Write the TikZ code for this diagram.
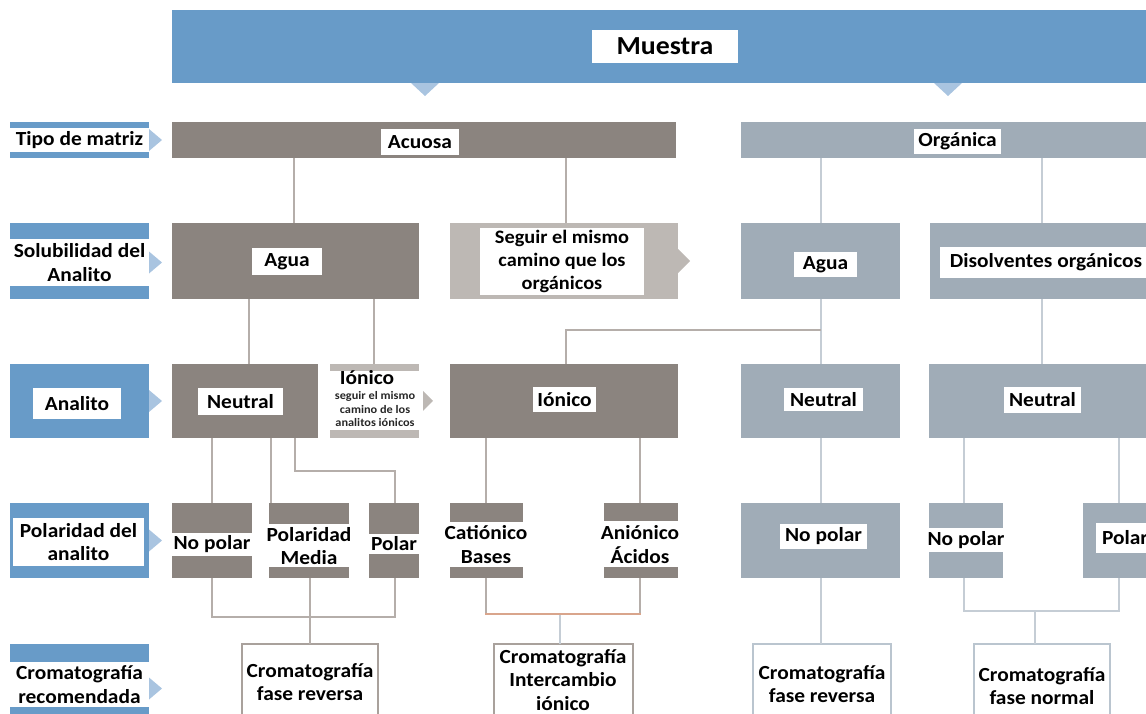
\documentclass[tikz,border=0pt]{standalone}
\usepackage{fontspec}
\setmainfont{Carlito}[FakeStretch=1.07]
\usetikzlibrary{calc}
\definecolor{bannerblue}{HTML}{689BC8}
\definecolor{arrblue}{HTML}{A9C4E0}
\definecolor{aqcol}{HTML}{8B847F}
\definecolor{ltgray}{HTML}{BDB8B4}
\definecolor{orgcol}{HTML}{A0ACB7}
\definecolor{aqline}{HTML}{B5AEAA}
\definecolor{orgline}{HTML}{C5CDD5}
\definecolor{brkt}{HTML}{D9A58C}
\definecolor{aqborder}{HTML}{A9A19C}
\definecolor{orgborder}{HTML}{BAC5CF}
\newcommand{\rbox}[7]{\node[#2, minimum width={(#5)-(#3)}, minimum height={(#6)-(#4)}] (#1) at ({((#3)+(#5))/2},{((#4)+(#6))/2}) {#7};}
\tikzset{
  blk/.style={rectangle, inner sep=0pt, outer sep=0pt, draw=none},
  aqbox/.style={blk, fill=aqcol},
  orgbox/.style={blk, fill=orgcol},
  ltbox/.style={blk, fill=ltgray},
  bluebox/.style={blk, fill=bannerblue},
  whitebox/.style={blk, fill=white},
  txt/.style={font=\bfseries\fontsize{20}{23.5}\selectfont, align=center, inner sep=0pt, text=black},
  smalltxt/.style={font=\bfseries\fontsize{11.5}{13.2}\selectfont, align=center, inner sep=0pt, text=black!85},
  aqconn/.style={draw=aqline, line width=2pt},
  orgconn/.style={draw=orgline, line width=2pt},
  brconn/.style={draw=brkt, line width=2pt},
  tri/.style={fill=arrblue},
  ltri/.style={fill=ltgray},
  cromaq/.style={blk, fill=white, draw=aqborder, line width=1.5pt},
  cromorg/.style={blk, fill=white, draw=orgborder, line width=1.5pt}
}
\begin{document}
\begin{tikzpicture}[x=1pt,y=-1pt]
\useasboundingbox (0,0) rectangle (1146,713);
\clip (0,0) rectangle (1146,713);
% banner
\rbox{banner}{bluebox}{172}{10}{1160}{83}{}
\rbox{muestra}{whitebox,txt,font=\bfseries\fontsize{26}{28}\selectfont}{592}{30}{738}{63}{Muestra}
\fill[tri] (425,0 |- banner.south) ++(-14,0) -- ++(28,0) -- ++(-14,13) -- cycle;
\fill[tri] (948,0 |- banner.south) ++(-14,0) -- ++(28,0) -- ++(-14,13) -- cycle;
% left labels
\rbox{l1top}{bluebox}{10}{122}{149}{128}{}
\rbox{l1bot}{bluebox}{10}{152}{149}{158}{}
\rbox{l1}{whitebox,txt}{10}{128}{149}{152}{Tipo de matriz}
\fill[tri] (l1.east) ++(0,-11) -- ++(13,11) -- ++(-13,11) -- cycle;
\rbox{l2top}{bluebox}{10}{223}{149}{239}{}
\rbox{l2bot}{bluebox}{10}{286}{149}{299}{}
\rbox{l2}{whitebox,txt}{10}{239}{149}{286}{Solubilidad del\\Analito}
\fill[tri] (l2.east) ++(0,-11) -- ++(13,11) -- ++(-13,11) -- cycle;
\rbox{l3}{bluebox}{10}{364}{149}{438}{}
\rbox{l3L}{whitebox,txt}{33}{388}{121}{419}{Analito}
\fill[tri] (l3.east) ++(0,-11) -- ++(13,11) -- ++(-13,11) -- cycle;
\rbox{l4}{bluebox}{10}{503}{149}{578}{}
\rbox{l4L}{whitebox,txt}{13}{518}{144}{566}{Polaridad del\\analito}
\fill[tri] (l4.east) ++(0,-11) -- ++(13,11) -- ++(-13,11) -- cycle;
\rbox{l5top}{bluebox}{10}{644}{149}{662}{}
\rbox{l5bot}{bluebox}{10}{707}{149}{720}{}
\rbox{l5}{whitebox,txt}{10}{662}{149}{707}{Cromatografía\\recomendada}
\fill[tri] ([yshift=-4pt]l5.east) ++(0,-11) -- ++(13,11) -- ++(-13,11) -- cycle;
% row 1
\rbox{acuosa}{aqbox}{172}{122}{676}{158}{}
\rbox{acuosaL}{whitebox,txt}{381}{129}{459}{155}{Acuosa}
\rbox{organica}{orgbox}{741}{122}{1160}{158}{}
\rbox{organicaL}{whitebox,txt}{914}{129}{1001}{154}{Orgánica}
% row 2
\rbox{agua}{aqbox}{172}{223}{419}{299}{}
\rbox{aguaL}{whitebox,txt}{252}{248}{322}{275}{Agua}
\rbox{seguir}{ltbox}{450}{223}{678}{299}{}
\rbox{seguirL}{whitebox,txt,font=\bfseries\fontsize{19}{23}\selectfont}{480}{228}{644}{295}{Seguir el mismo\\camino que los\\orgánicos}
\fill[ltri] (seguir.east) ++(0,-12) -- ++(12,12) -- ++(-12,12) -- cycle;
\rbox{aguaO}{orgbox}{741}{223}{900}{299}{}
\rbox{aguaOL}{whitebox,txt}{794}{252}{857}{277}{Agua}
\rbox{disol}{orgbox}{930}{223}{1160}{299}{}
\rbox{disolL}{whitebox}{940}{247}{1160}{278}{}
\node[txt] (disolT) at (1046,262.5) {Disolventes orgánicos};
% row 3
\rbox{neutral}{aqbox}{172}{364}{318}{438}{}
\rbox{neutralL}{whitebox,txt}{198}{388}{283}{415}{Neutral}
\rbox{ionTop}{ltbox}{330}{364}{419}{371}{}
\rbox{ionBot}{ltbox}{330}{430}{419}{438}{}
\node[txt] (ionS) at (367,378) {Iónico};
\node[smalltxt] (ionSub) at (375,409) {seguir el mismo\\camino de los\\analitos iónicos};
\fill[ltri] ($(ionTop.east)!0.5!(ionBot.east)$) ++(4,-10) -- ++(10,10) -- ++(-10,10) -- cycle;
\rbox{ionico}{aqbox}{450}{364}{678}{438}{}
\rbox{ionicoL}{whitebox,txt}{533}{387}{596}{412}{Iónico}
\rbox{neutralO}{orgbox}{741}{364}{900}{438}{}
\rbox{neutralOL}{whitebox,txt}{784}{388}{863}{411}{Neutral}
\rbox{neutralR}{orgbox}{929}{364}{1160}{438}{}
\rbox{neutralRL}{whitebox,txt}{1004}{387}{1081}{413}{Neutral}
% row 4
\rbox{npTop}{aqbox}{172}{503}{252}{533}{}
\rbox{npBot}{aqbox}{172}{556}{252}{578}{}
\node[txt] (np) at (212,544.5) {No polar};
\rbox{pmTop}{aqbox}{269}{503}{349}{524}{}
\rbox{pmBot}{aqbox}{269}{567}{349}{578}{}
\node[txt] (pm) at (309,546) {Polaridad\\Media};
\rbox{polTop}{aqbox}{369}{503}{419}{534}{}
\rbox{polBot}{aqbox}{369}{554}{419}{578}{}
\node[txt] (pol) at (394,544) {Polar};
\rbox{catTop}{aqbox}{450}{503}{523}{522}{}
\rbox{catBot}{aqbox}{450}{567}{523}{578}{}
\node[txt] (cat) at (486,544.5) {Catiónico\\Bases};
\rbox{aniTop}{aqbox}{604}{503}{678}{521}{}
\rbox{aniBot}{aqbox}{604}{567}{678}{578}{}
\node[txt] (ani) at (640,544.5) {Aniónico\\Ácidos};
\rbox{noO}{orgbox}{741}{503}{900}{578}{}
\rbox{noOL}{whitebox,txt}{780}{524}{867}{549}{No polar}
\rbox{np2Top}{orgbox}{929}{503}{1003}{528}{}
\rbox{np2Bot}{orgbox}{929}{552}{1003}{578}{}
\node[txt] (np2) at (966,540) {No polar};
\rbox{polO}{orgbox}{1083}{503}{1160}{578}{}
\rbox{polOL}{whitebox}{1096}{523}{1160}{553}{}
\node[txt] (polOT) at (1125,538) {Polar};
% row 5
\rbox{crom1}{cromaq}{242}{644}{378}{730}{}
\node[txt] (crom1T) at (310,682) {Cromatografía\\fase reversa};
\rbox{crom2}{cromaq}{494}{644}{633}{730}{}
\node[txt] (crom2T) at (563,680) {Cromatografía\\Intercambio\\iónico};
\rbox{crom3}{cromorg}{753}{644}{891}{730}{}
\node[txt] (crom3T) at (822,684) {Cromatografía\\fase reversa};
\rbox{crom4}{cromorg}{974}{644}{1110}{730}{}
\node[txt] (crom4T) at (1042,686) {Cromatografía\\fase normal};
% connectors aqueous
\draw[aqconn] (294,0 |- acuosa.south) -- (294,0 |- agua.north);
\draw[aqconn] (566,0 |- acuosa.south) -- (566,0 |- seguir.north);
\draw[aqconn] (249,0 |- agua.south) -- (249,0 |- neutral.north);
\draw[aqconn] (374,0 |- agua.south) -- (374,0 |- ionTop.north);
\draw[aqconn] (212,0 |- neutral.south) -- (212,0 |- npTop.north);
\draw[aqconn] (271,0 |- neutral.south) -- (271,0 |- pmTop.north);
\draw[aqconn] (295,0 |- neutral.south) -- (295,471) -- (395,471) -- (395,0 |- polTop.north);
\draw[aqconn] (486,0 |- ionico.south) -- (486,0 |- catTop.north);
\draw[aqconn] (640,0 |- ionico.south) -- (640,0 |- aniTop.north);
\draw[aqconn] (212,0 |- npBot.south) -- (212,617) -- (395,617) -- (395,0 |- polBot.south);
\draw[aqconn] (310,0 |- pmBot.south) -- (310,0 |- crom1.north);
\draw[aqconn] (486,0 |- catBot.south) -- (486,614);
\draw[aqconn] (640,0 |- aniBot.south) -- (640,614);
\draw[brconn] (485,614) -- (641,614);
\draw[orgconn] (560,615) -- (560,0 |- crom2.north);
% connectors organic
\draw[orgconn] (821,0 |- organica.south) -- (821,0 |- aguaO.north);
\draw[orgconn] (1042,0 |- organica.south) -- (1042,0 |- disol.north);
\draw[orgconn] (821,0 |- aguaO.south) -- (821,0 |- neutralO.north);
\draw[aqconn] (821,330) -- (566,330) -- (566,0 |- ionico.north);
\draw[orgconn] (1042,0 |- disol.south) -- (1042,0 |- neutralR.north);
\draw[orgconn] (821,0 |- neutralO.south) -- (821,0 |- noO.north);
\draw[orgconn] (964,0 |- neutralR.south) -- (964,0 |- np2Top.north);
\draw[orgconn] (1119,0 |- neutralR.south) -- (1119,0 |- polO.north);
\draw[orgconn] (821,0 |- noO.south) -- (821,0 |- crom3.north);
\draw[orgconn] (964,0 |- np2Bot.south) -- (964,611) -- (1119,611) -- (1119,0 |- polO.south);
\draw[orgconn] (1035,611) -- (1035,0 |- crom4.north);
\end{tikzpicture}
\end{document}
